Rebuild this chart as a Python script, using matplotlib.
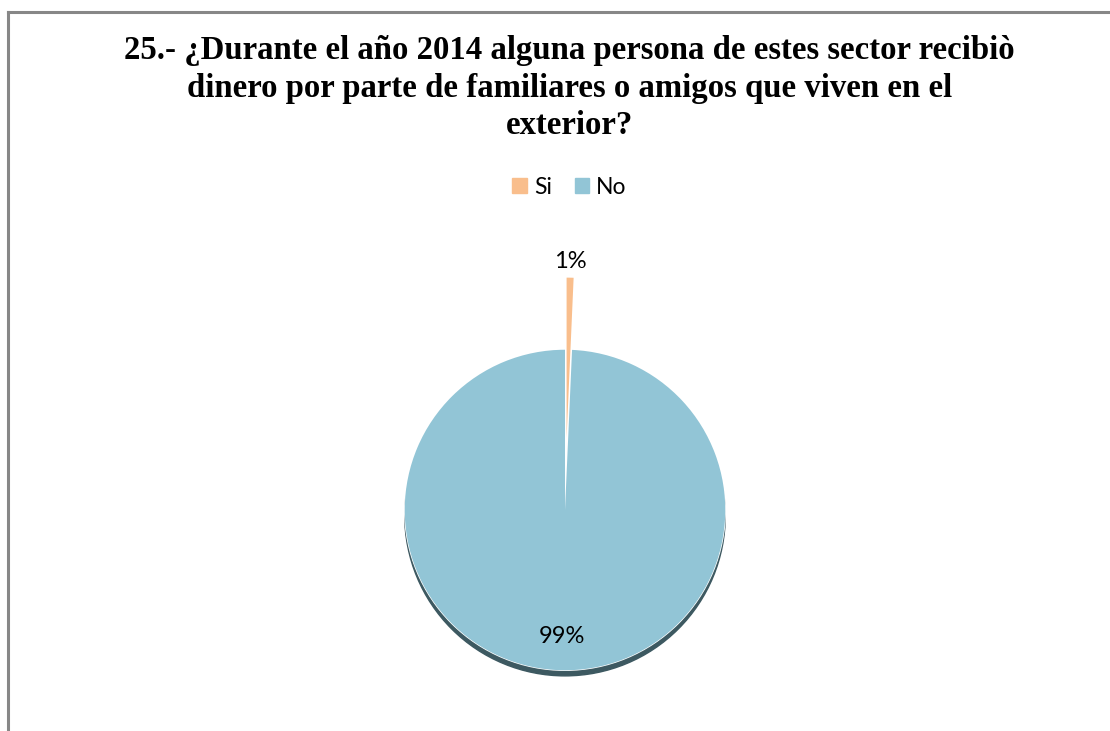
import matplotlib
matplotlib.use("Agg")
import matplotlib.pyplot as plt
from matplotlib.patches import Ellipse
from matplotlib.lines import Line2D
import numpy as np

labels = ["Si", "No"]
values = [0.7, 99.3]
colors = ["#F9BE8C", "#92C5D6"]
title = ("25.- ¿Durante el año 2014 alguna persona de estes sector recibiò\n"
         "dinero por parte de familiares o amigos que viven en el\n"
         "exterior?")

fig = plt.figure(figsize=(11.1, 7.31), dpi=100)

# frame (top and left edges only visible)
fig.add_artist(Line2D([0.007, 0.007], [0.0, 0.983], color="#878787", lw=2.2))
fig.add_artist(Line2D([0.007, 1.0], [0.983, 0.983], color="#878787", lw=2.2))

fig.text(0.513, 0.952, title, ha="center", va="top", fontsize=23.6,
         fontweight="bold", family="Liberation Serif", linespacing=1.27)

# pie axes: center ~ (565, 510) px, radius ~161 px
ax = fig.add_axes([565 / 1110 - 0.27, 1 - 510 / 731 - 0.41, 0.54, 0.82])
ax.axis("off")

# shadow under the pie, masked by a white disc so only the bottom rim shows
ax.add_patch(Ellipse((0.0, -0.035), 2.0, 2.0, color="#3D5961", zorder=0))
ax.add_patch(Ellipse((0.0, 0.0), 2.0, 2.0, color="white", zorder=0.5))

explode = [0.45, 0]
wedges, texts, autotexts = ax.pie(values, colors=colors, startangle=90,
                                  counterclock=False, explode=explode,
                                  autopct="%1.0f%%", pctdistance=0.79,
                                  textprops=dict(fontsize=17, family="Lato",
                                                 color="black"),
                                  wedgeprops=dict(linewidth=0))
for w in wedges:
    w.set_zorder(1)
for t in texts:
    t.set_visible(False)

ax.set_aspect("equal")
ax.set_xlim(-1.87, 1.87)
ax.set_ylim(-1.87, 1.87)

# move the small slice label outside its wedge
w = wedges[0]
mid = np.deg2rad((w.theta1 + w.theta2) / 2)
cx, cy = w.center
autotexts[0].set_position((cx + 1.1 * np.cos(mid), cy + 1.1 * np.sin(mid)))

handles = [plt.Rectangle((0, 0), 1, 1, color=c) for c in colors]
fig.legend(handles, labels, loc="center", bbox_to_anchor=(0.513, 0.744),
           ncol=2, frameon=False, prop=dict(family="Lato", size=16.5),
           handlelength=0.65, handleheight=0.65, handletextpad=0.3,
           columnspacing=1.0)

fig.savefig("out.png", dpi=100, facecolor="white")
